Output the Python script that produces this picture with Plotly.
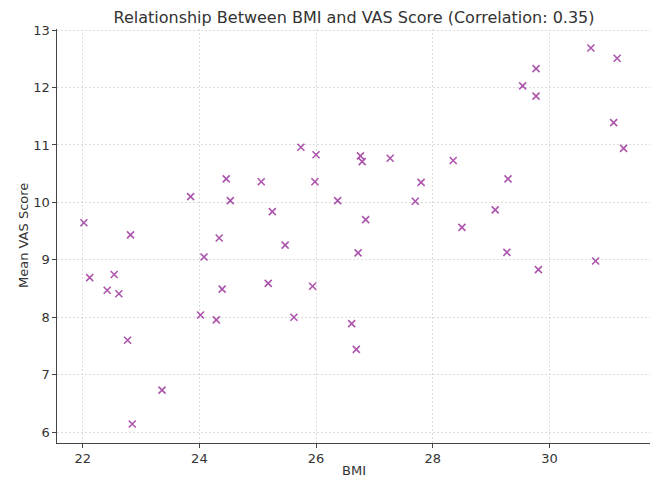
import plotly.graph_objects as go

bmi = [22.02, 22.12, 22.42, 22.54, 22.62, 22.77, 22.82, 22.85, 23.36, 23.85,
       24.02, 24.08, 24.29, 24.34, 24.39, 24.46, 24.53, 25.06, 25.18, 25.25,
       25.47, 25.62, 25.74, 25.94, 25.98, 26.00, 26.37, 26.61, 26.69, 26.72,
       26.76, 26.79, 26.85, 27.27, 27.70, 27.80, 28.35, 28.50, 29.07, 29.27,
       29.29, 29.54, 29.77, 29.77, 29.81, 30.71, 30.79, 31.10, 31.16, 31.27]
vas = [9.645, 8.69, 8.47, 8.745, 8.41, 7.60, 9.435, 6.14, 6.73, 10.10,
       8.04, 9.05, 7.955, 9.38, 8.49, 10.41, 10.03, 10.36, 8.59, 9.84,
       9.256, 8.00, 10.96, 8.54, 10.36, 10.83, 10.03, 7.89, 7.44, 9.12,
       10.81, 10.71, 9.70, 10.77, 10.02, 10.35, 10.73, 9.565, 9.87, 9.13,
       10.41, 12.03, 12.33, 11.85, 8.83, 12.69, 8.98, 11.39, 12.51, 10.94]

title = "Relationship Between BMI and VAS Score (Correlation: 0.35)"
x_label = "BMI"
y_label = "Mean VAS Score"
x_ticks = [22, 24, 26, 28, 30]
y_ticks = [6, 7, 8, 9, 10, 11, 12, 13]

# page body has an 8px default margin: figure occupies page (8..658, 8..478)
W, H = 650, 470
L, R, T, B = 49, 7, 21, 35
PW, PH = W - L - R, H - T - B

fig = go.Figure(go.Scatter(
    x=bmi, y=vas, mode="markers",
    marker=dict(symbol="x-thin-open", size=7, color="rgba(140,20,140,0.72)",
                line=dict(width=1.6, color="rgba(140,20,140,0.72)")),
    showlegend=False,
))

axis_common = dict(
    showgrid=True, gridcolor="#dcdcdc", griddash="2px,2px", gridwidth=0.7,
    showline=True, linecolor="#444444", linewidth=1.3,
    ticks="outside", ticklen=3.5, tickcolor="#444444", tickwidth=1,
    zeroline=False, mirror=False, automargin=False,
    tickfont=dict(size=13, color="#333333", family="DejaVu Sans"),
)

fig.update_layout(
    width=W, height=H,
    margin=dict(l=L, r=R, t=T, b=B),
    paper_bgcolor="white", plot_bgcolor="white",
    font=dict(family="DejaVu Sans", color="#333333"),
    title=dict(text=title, x=0.5, xref="paper", xanchor="center",
               y=1 - 9 / H, yref="container", yanchor="middle",
               font=dict(size=16, color="#333333")),
    xaxis=dict(range=[21.56, 31.74], tickvals=x_ticks, **axis_common),
    yaxis=dict(range=[5.81, 13.02], tickvals=y_ticks, **axis_common),
    annotations=[
        dict(text=x_label, xref="paper", yref="paper", x=0.5,
             y=-(462 - (H - B)) / PH, xanchor="center", yanchor="middle",
             showarrow=False, font=dict(size=13, color="#333333")),
        dict(text=y_label, xref="paper", yref="paper", x=-(L - 15) / PW,
             y=0.5, xanchor="center", yanchor="middle", textangle=-90,
             showarrow=False, font=dict(size=13, color="#333333")),
    ],
)

fig.write_html("out.html")
